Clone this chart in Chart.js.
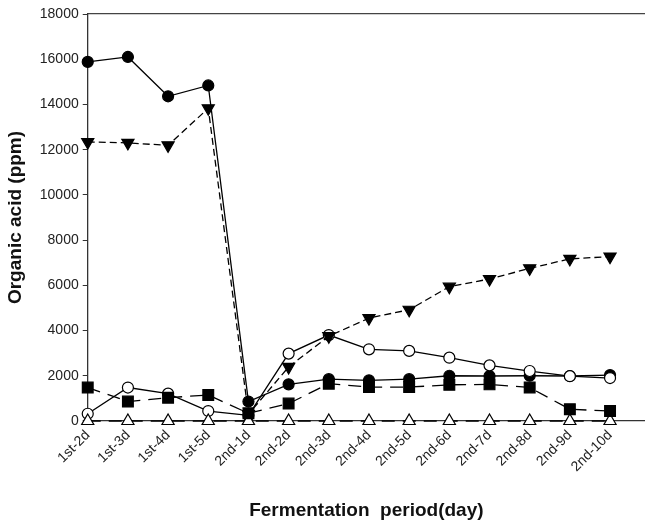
<!DOCTYPE html>
<html>
<head>
<meta charset="utf-8">
<script src="https://cdn.jsdelivr.net/npm/chart.js@4.4.1/dist/chart.umd.min.js"></script>
<style>
  html, body { margin: 0; padding: 0; background: #fff; }
  #wrap { width: 645px; height: 525px; }
</style>
</head>
<body>
<div id="wrap"><canvas id="chart"></canvas></div>
<script>
const days = ["1st-2d", "1st-3d", "1st-4d", "1st-5d", "2nd-1d", "2nd-2d", "2nd-3d",
  "2nd-4d", "2nd-5d", "2nd-6d", "2nd-7d", "2nd-8d", "2nd-9d", "2nd-10d"];
const filledCircle = [15880, 16100, 14360, 14840, 860, 1620, 1850, 1800, 1850, 2000, 1990, 2000, 1990, 2030];
const openCircle = [320, 1480, 1210, 440, 250, 2980, 3800, 3170, 3100, 2800, 2460, 2210, 1980, 1900];
const filledTriangle = [12340, 12300, 12190, 13830, 300, 2390, 3750, 4550, 4920, 5940, 6280, 6750, 7170, 7270];
const filledSquare = [1480, 860, 1030, 1150, 340, 770, 1650, 1500, 1500, 1600, 1620, 1480, 520, 440];
const openTriangle = [0, 0, 0, 0, 0, 0, 0, 0, 0, 0, 0, 0, 0, 0];
const yTicks = [0, 2000, 4000, 6000, 8000, 10000, 12000, 14000, 16000, 18000];

const font = "'Liberation Sans', Arial, sans-serif";
const toPoints = (arr) => arr.map((v, i) => ({ x: i, y: v }));

const base = {
  borderColor: "#000",
  borderWidth: 1.3,
  pointBorderColor: "#000",
  pointBorderWidth: 1.2,
  tension: 0,
  clip: false,
};

const datasets = [
  { ...base, label: "filled square", data: toPoints(filledSquare), borderDash: [13, 8],
    pointStyle: "rect", pointRadius: 7.6, pointBackgroundColor: "#000" },
  { ...base, label: "open triangle", data: toPoints(openTriangle), borderDash: [13, 8],
    pointStyle: "triangle", pointRadius: 7, pointBackgroundColor: "#fff" },
  { ...base, label: "filled triangle", data: toPoints(filledTriangle), borderDash: [7, 4],
    pointStyle: "triangle", rotation: 180, pointRadius: 7, pointBackgroundColor: "#000" },
  { ...base, label: "open circle", data: toPoints(openCircle),
    pointStyle: "circle", pointRadius: 5.5, pointBackgroundColor: "#fff" },
  { ...base, label: "filled circle", data: toPoints(filledCircle),
    pointStyle: "circle", pointRadius: 5.5, pointBackgroundColor: "#000" },
];

// the plot runs out to the right edge, like the original figure
const noSidePadding = (scale) => { scale.paddingRight = 0; };

new Chart(document.getElementById("chart"), {
  type: "line",
  data: { datasets: datasets },
  options: {
    responsive: true,
    maintainAspectRatio: false,
    animation: false,
    layout: { autoPadding: false, padding: { left: 4, right: 0, top: 14, bottom: 0 } },
    plugins: { legend: { display: false }, tooltip: { enabled: false } },
    scales: {
      x: {
        type: "linear",
        min: 0,
        max: 13.87,
        afterBuildTicks: (scale) => { scale.ticks = days.map((d, i) => ({ value: i })); },
        afterFit: noSidePadding,
        ticks: {
          autoSkip: false, minRotation: 45, maxRotation: 45, padding: 2,
          color: "#222", font: { family: font, size: 14 },
          callback: (v) => days[v],
        },
        grid: { drawOnChartArea: false, tickLength: 4, color: "#333" },
        border: { color: "#333", width: 1.3 },
        title: {
          display: true, text: "Fermentation  period(day)", color: "#111",
          font: { family: font, size: 19, weight: "bold" },
          padding: { top: 22, bottom: 3 },
        },
      },
      xTop: {
        type: "linear", position: "top", min: 0, max: 1,
        afterFit: noSidePadding,
        ticks: { display: false },
        grid: { display: false, drawTicks: false },
        border: { display: true, color: "#444", width: 1.3 },
      },
      y: {
        min: 0,
        max: 18000,
        afterBuildTicks: (scale) => { scale.ticks = yTicks.map((v) => ({ value: v })); },
        ticks: {
          color: "#222", font: { family: font, size: 14 }, padding: 4,
          callback: (v) => String(v),
        },
        grid: { drawOnChartArea: false, tickLength: 5, color: "#333" },
        border: { color: "#333", width: 1.3 },
        title: {
          display: true, text: "Organic acid (ppm)", color: "#111",
          font: { family: font, size: 19, weight: "bold" },
          padding: { top: 0, bottom: 9 },
        },
      },
    },
  },
});
</script>
</body>
</html>
